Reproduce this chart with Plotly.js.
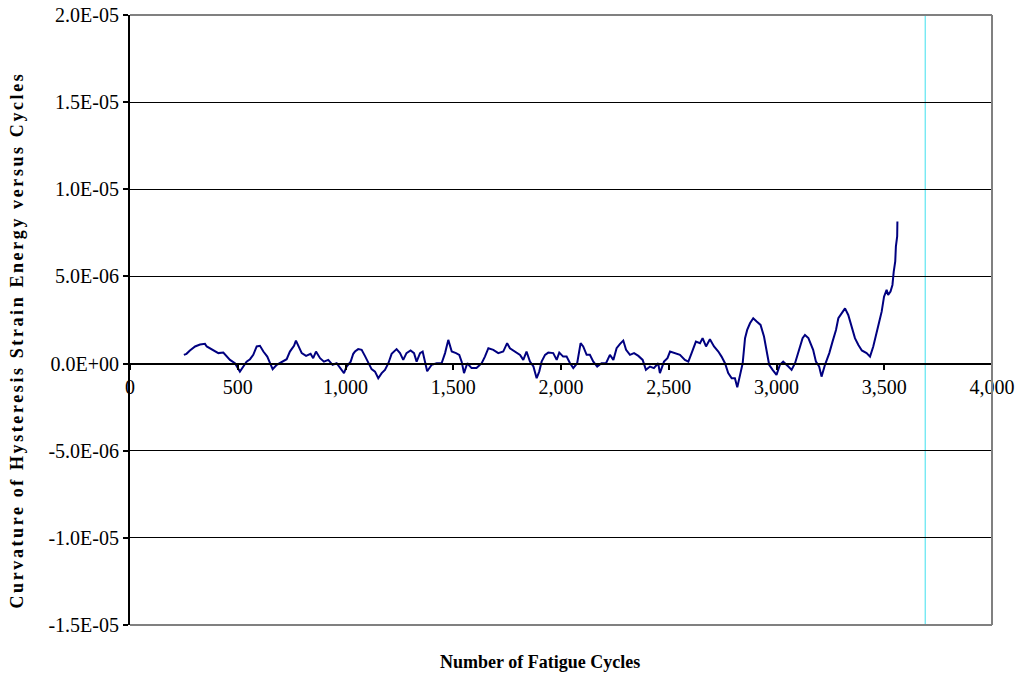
<!DOCTYPE html>
<html>
<head>
<meta charset="utf-8">
<script src="https://cdn.plot.ly/plotly-3.0.1.min.js"></script>
<style>
  html, body { margin: 0; padding: 0; background: #ffffff; }
  #chart { width: 1019px; height: 675px; }
</style>
</head>
<body>
<div id="chart"></div>
<script>
// Fatigue cycle count
const cycles = [
  250, 262, 278, 302, 325, 348, 356, 379, 394, 410, 433, 449, 464, 487, 510, 526, 541, 557, 572, 588,
  603, 619, 637, 650, 662, 681, 704, 727, 742, 761, 770, 781, 797, 817, 838, 850, 863, 882, 900, 920,
  940, 959, 974, 993, 1005, 1024, 1036, 1044, 1059, 1075, 1090, 1106, 1121, 1137, 1152, 1168, 1183, 1199, 1214, 1237,
  1253, 1268, 1283, 1302, 1318, 1330, 1346, 1358, 1369, 1379, 1400, 1423, 1446, 1462, 1477, 1485, 1493, 1513, 1528, 1539,
  1550, 1565, 1585, 1608, 1632, 1647, 1663, 1686, 1709, 1732, 1750, 1763, 1786, 1810, 1825, 1840, 1856, 1872, 1887, 1899,
  1910, 1926, 1941, 1964, 1980, 1992, 2010, 2026, 2042, 2057, 2075, 2091, 2103, 2119, 2134, 2150, 2168, 2188, 2209, 2227,
  2243, 2258, 2274, 2289, 2302, 2320, 2339, 2359, 2379, 2394, 2413, 2431, 2451, 2459, 2478, 2494, 2506, 2529, 2552, 2575,
  2591, 2606, 2626, 2645, 2657, 2673, 2691, 2710, 2730, 2745, 2761, 2776, 2792, 2807, 2818, 2831, 2843, 2854, 2864, 2877,
  2892, 2908, 2926, 2942, 2954, 2966, 2982, 3000, 3016, 3031, 3055, 3070, 3086, 3106, 3121, 3132, 3148, 3170, 3183, 3198,
  3209, 3225, 3245, 3260, 3276, 3287, 3302, 3318, 3333, 3349, 3364, 3380, 3396, 3418, 3434, 3449, 3462, 3477, 3488, 3499,
  3511, 3518, 3529, 3538, 3544, 3551, 3554, 3560, 3561
];

// Curvature of hysteresis strain energy, in units of 1E-06
const curvatureE6 = [
  0.50, 0.56, 0.75, 0.98, 1.09, 1.13, 0.98, 0.83, 0.69, 0.60, 0.63, 0.44, 0.21, 0.02, -0.46, -0.17, 0.11, 0.25, 0.50, 0.98,
  1.02, 0.69, 0.40, 0.02, -0.32, -0.07, 0.11, 0.25, 0.69, 1.02, 1.32, 0.98, 0.60, 0.44, 0.56, 0.31, 0.69, 0.31, 0.11, 0.21,
  -0.07, 0.02, -0.26, -0.55, -0.17, 0.11, 0.56, 0.69, 0.83, 0.79, 0.44, 0.02, -0.32, -0.46, -0.84, -0.55, -0.36, 0.02, 0.56, 0.83,
  0.60, 0.21, 0.60, 0.75, 0.60, 0.11, 0.60, 0.69, 0.02, -0.44, -0.07, 0.02, 0.02, 0.60, 1.36, 1.07, 0.69, 0.60, 0.50, 0.11,
  -0.55, 0.02, -0.26, -0.26, 0.02, 0.40, 0.88, 0.79, 0.60, 0.69, 1.17, 0.88, 0.69, 0.50, 0.21, 0.69, 0.11, -0.17, -0.84, -0.46,
  0.11, 0.50, 0.63, 0.60, 0.21, 0.63, 0.40, 0.40, 0.02, -0.26, 0.02, 1.17, 0.98, 0.50, 0.50, 0.11, -0.17, 0.02, 0.02, 0.50,
  0.21, 0.88, 1.13, 1.32, 0.79, 0.50, 0.60, 0.44, 0.21, -0.36, -0.17, -0.26, 0.02, -0.55, 0.11, 0.31, 0.69, 0.60, 0.50, 0.21,
  0.11, 0.60, 1.26, 1.17, 1.46, 0.98, 1.39, 0.98, 0.69, 0.40, 0.02, -0.55, -0.84, -0.84, -1.36, -0.65, 0.02, 1.46, 1.93, 2.31,
  2.60, 2.41, 2.22, 1.55, 0.79, -0.07, -0.36, -0.65, -0.07, 0.11, -0.17, -0.36, 0.02, 0.79, 1.46, 1.64, 1.46, 0.79, 0.11, -0.17,
  -0.75, -0.07, 0.60, 1.26, 1.93, 2.60, 2.88, 3.17, 2.79, 2.03, 1.46, 1.07, 0.75, 0.60, 0.40, 0.98, 1.74, 2.41, 2.98, 3.84,
  4.23, 3.94, 4.13, 4.51, 5.28, 5.86, 6.72, 7.30, 8.15
];

// Axis ticks and labels
const xTickVals = [0, 500, 1000, 1500, 2000, 2500, 3000, 3500, 4000];
const xTickText = ['0', '500', '1,000', '1,500', '2,000', '2,500', '3,000', '3,500', '4,000'];
const yTickVals = [-1.5e-5, -1.0e-5, -5.0e-6, 0, 5.0e-6, 1.0e-5, 1.5e-5, 2.0e-5];
const yTickText = ['-1.5E-05', '-1.0E-05', '-5.0E-06', '0.0E+00', '5.0E-06', '1.0E-05', '1.5E-05', '2.0E-05'];

// Cycle count marked by the vertical reference line
const markerCycle = 3690;

const xTitle = 'Number of Fatigue Cycles';
const yTitle = 'Curvature of Hysteresis Strain Energy versus Cycles';

const yMin = -1.5e-5, yMax = 2.0e-5;
const curvature = curvatureE6.map(v => v * 1e-6);

const serif = 'Liberation Serif, Times New Roman, serif';

const trace = {
  x: cycles,
  y: curvature,
  type: 'scatter',
  mode: 'lines',
  line: { color: '#000080', width: 2 },
  hoverinfo: 'x+y'
};

const layout = {
  width: 1019,
  height: 675,
  margin: { l: 130, r: 27, t: 15, b: 50 },
  paper_bgcolor: '#ffffff',
  plot_bgcolor: '#ffffff',
  showlegend: false,
  font: { family: serif, size: 20, color: '#000000' },
  xaxis: {
    range: [0, 4000],
    tickvals: xTickVals,
    ticktext: xTickText,
    anchor: 'free',
    position: (0 - yMin) / (yMax - yMin),
    showline: true,
    linecolor: '#000000',
    linewidth: 2,
    ticks: 'outside',
    ticklen: 5,
    tickwidth: 2,
    tickcolor: '#000000',
    showgrid: false,
    zeroline: false,
    tickfont: { family: serif, size: 20, color: '#000000' },
    fixedrange: true
  },
  yaxis: {
    range: [yMin, yMax],
    tickvals: yTickVals,
    ticktext: yTickText,
    showline: true,
    linecolor: '#000000',
    linewidth: 2,
    ticks: 'outside',
    ticklen: 5,
    tickwidth: 2,
    tickcolor: '#000000',
    showgrid: true,
    gridcolor: '#000000',
    gridwidth: 1,
    zeroline: false,
    tickfont: { family: serif, size: 20, color: '#000000' },
    fixedrange: true
  },
  shapes: [
    // grey frame on the top, right and bottom sides
    { type: 'line', xref: 'paper', yref: 'paper', x0: 0, x1: 1, y0: 1, y1: 1,
      line: { color: '#808080', width: 2 }, layer: 'above' },
    { type: 'line', xref: 'paper', yref: 'paper', x0: 1, x1: 1, y0: 0, y1: 1,
      line: { color: '#808080', width: 2 }, layer: 'above' },
    { type: 'line', xref: 'paper', yref: 'paper', x0: 0, x1: 1, y0: 0, y1: 0,
      line: { color: '#808080', width: 2 }, layer: 'above' },
    // vertical reference line
    { type: 'line', xref: 'x', yref: 'paper', x0: markerCycle, x1: markerCycle, y0: 0, y1: 1,
      line: { color: '#3ee0ee', width: 1 }, layer: 'below' }
  ],
  annotations: [
    { text: '<b>' + xTitle + '</b>', xref: 'paper', yref: 'paper', x: 0.476, y: -0.061,
      xanchor: 'center', yanchor: 'middle', showarrow: false,
      font: { family: serif, size: 18, color: '#000000' } },
    { text: '<b>' + yTitle + '</b>', xref: 'paper', yref: 'paper', x: -0.131, y: 0.467,
      xanchor: 'center', yanchor: 'middle', showarrow: false, textangle: -90,
      font: { family: serif, size: 18, color: '#000000' } }
  ]
};

Plotly.newPlot('chart', [trace], layout, { displayModeBar: false, staticPlot: true }).then(gd => {
  // widen the spacing of the vertical axis title so it runs the full plot height
  const texts = gd.querySelectorAll('.annotation-text');
  if (texts.length > 1) {
    texts[1].style.letterSpacing = '2.6px';
  }
});
</script>
</body>
</html>
